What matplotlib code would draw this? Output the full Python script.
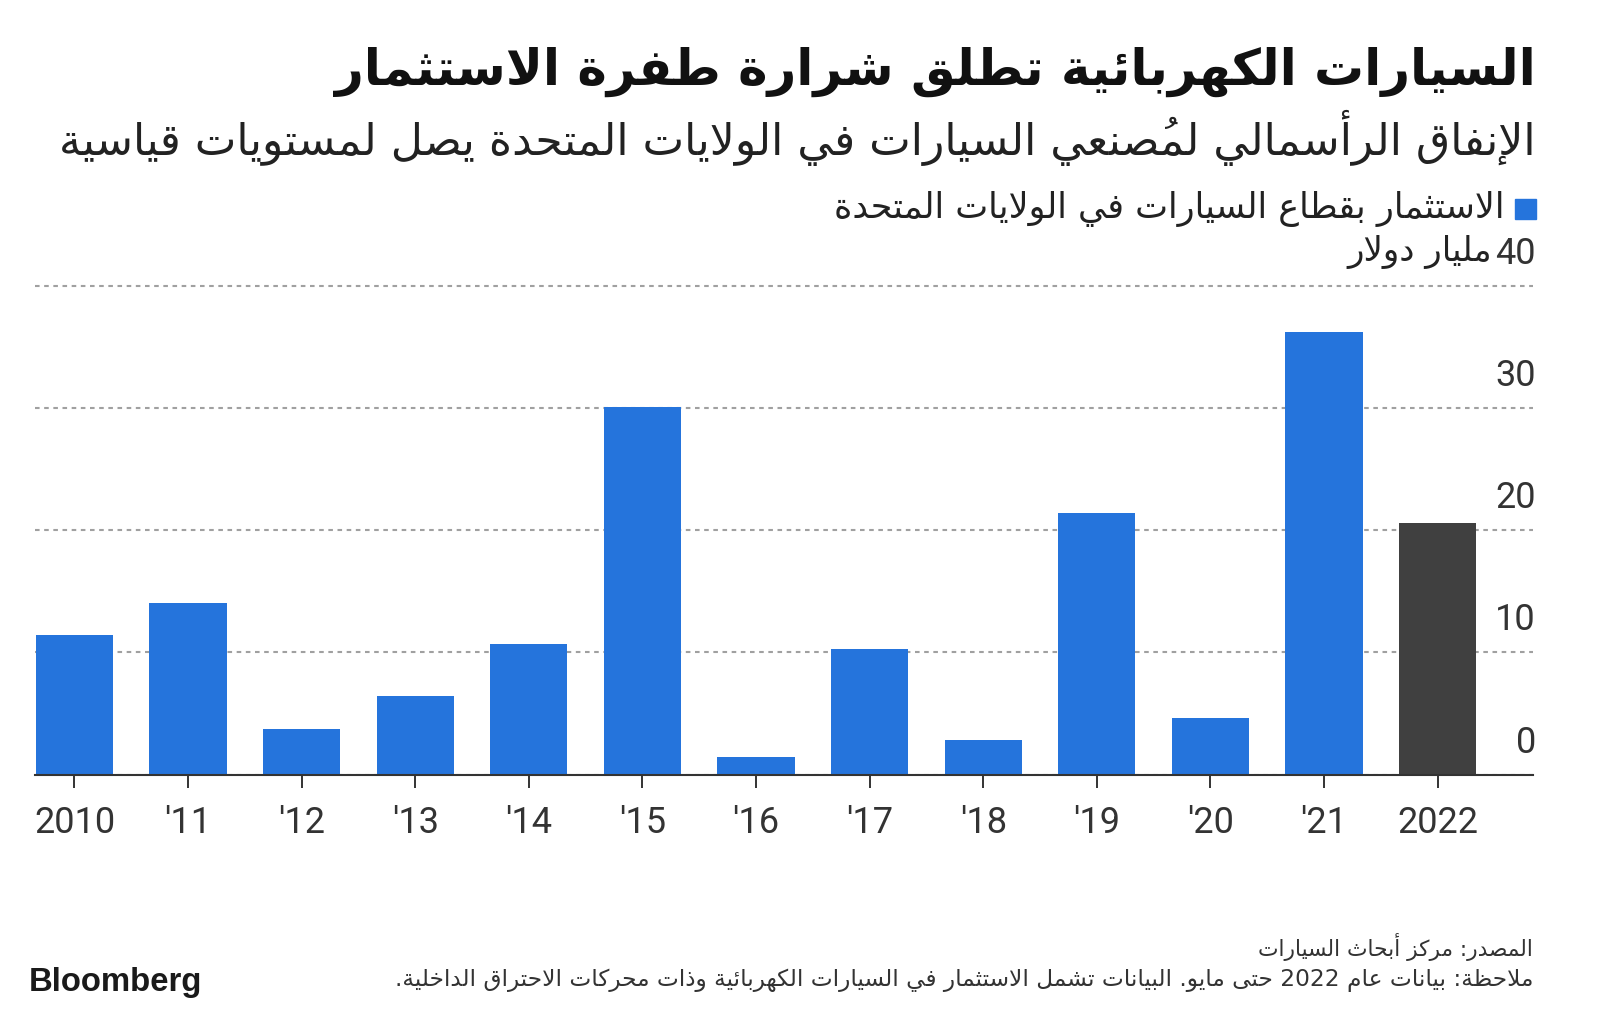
#!/usr/bin/env python3

import matplotlib
matplotlib.use("Agg")
import matplotlib.pyplot as plt
from matplotlib.patches import Rectangle

# Data (billion dollars)
years = ["2010", "'11", "'12", "'13", "'14", "'15", "'16", "'17", "'18", "'19", "'20", "'21", "2022"]
invest = [11.4, 14.0, 3.75, 6.4, 10.7, 30.1, 1.4, 10.25, 2.8, 21.4, 4.6, 36.2, 20.6]
yticks = [0, 10, 20, 30, 40]

title = "السيارات الكهربائية تطلق شرارة طفرة الاستثمار"
subtitle = "الإنفاق الرأسمالي لمُصنعي السيارات في الولايات المتحدة يصل لمستويات قياسية"
legend_txt = "الاستثمار بقطاع السيارات في الولايات المتحدة"
unit_txt = "مليار دولار"
source_txt = "المصدر: مركز أبحاث السيارات"
note_txt = "ملاحظة: بيانات عام 2022 حتى مايو. البيانات تشمل الاستثمار في السيارات الكهربائية وذات محركات الاحتراق الداخلية."

BLUE = "#2574dc"
GREY = "#404040"

# --- minimal Arabic shaping + RTL ordering (matplotlib does not shape) ---
# letter: (isolated, final, initial, medial)
FORMS = {
    "ء": (0xFE80, None, None, None),
    "آ": (0xFE81, 0xFE82, None, None),
    "أ": (0xFE83, 0xFE84, None, None),
    "ؤ": (0xFE85, 0xFE86, None, None),
    "إ": (0xFE87, 0xFE88, None, None),
    "ئ": (0xFE89, 0xFE8A, 0xFE8B, 0xFE8C),
    "ا": (0xFE8D, 0xFE8E, None, None),
    "ب": (0xFE8F, 0xFE90, 0xFE91, 0xFE92),
    "ة": (0xFE93, 0xFE94, None, None),
    "ت": (0xFE95, 0xFE96, 0xFE97, 0xFE98),
    "ث": (0xFE99, 0xFE9A, 0xFE9B, 0xFE9C),
    "ج": (0xFE9D, 0xFE9E, 0xFE9F, 0xFEA0),
    "ح": (0xFEA1, 0xFEA2, 0xFEA3, 0xFEA4),
    "خ": (0xFEA5, 0xFEA6, 0xFEA7, 0xFEA8),
    "د": (0xFEA9, 0xFEAA, None, None),
    "ذ": (0xFEAB, 0xFEAC, None, None),
    "ر": (0xFEAD, 0xFEAE, None, None),
    "ز": (0xFEAF, 0xFEB0, None, None),
    "س": (0xFEB1, 0xFEB2, 0xFEB3, 0xFEB4),
    "ش": (0xFEB5, 0xFEB6, 0xFEB7, 0xFEB8),
    "ص": (0xFEB9, 0xFEBA, 0xFEBB, 0xFEBC),
    "ض": (0xFEBD, 0xFEBE, 0xFEBF, 0xFEC0),
    "ط": (0xFEC1, 0xFEC2, 0xFEC3, 0xFEC4),
    "ظ": (0xFEC5, 0xFEC6, 0xFEC7, 0xFEC8),
    "ع": (0xFEC9, 0xFECA, 0xFECB, 0xFECC),
    "غ": (0xFECD, 0xFECE, 0xFECF, 0xFED0),
    "ف": (0xFED1, 0xFED2, 0xFED3, 0xFED4),
    "ق": (0xFED5, 0xFED6, 0xFED7, 0xFED8),
    "ك": (0xFED9, 0xFEDA, 0xFEDB, 0xFEDC),
    "ل": (0xFEDD, 0xFEDE, 0xFEDF, 0xFEE0),
    "م": (0xFEE1, 0xFEE2, 0xFEE3, 0xFEE4),
    "ن": (0xFEE5, 0xFEE6, 0xFEE7, 0xFEE8),
    "ه": (0xFEE9, 0xFEEA, 0xFEEB, 0xFEEC),
    "و": (0xFEED, 0xFEEE, None, None),
    "ى": (0xFEEF, 0xFEF0, None, None),
    "ي": (0xFEF1, 0xFEF2, 0xFEF3, 0xFEF4),
}
LAM_ALEF = {"آ": (0xFEF5, 0xFEF6), "أ": (0xFEF7, 0xFEF8), "إ": (0xFEF9, 0xFEFA), "ا": (0xFEFB, 0xFEFC)}


def is_mark(c):
    return "\u064B" <= c <= "\u0652"


def shape(text):
    idx = [i for i, c in enumerate(text) if not is_mark(c)]
    out = []
    skip = set()
    for k, i in enumerate(idx):
        if i in skip:
            continue
        c = text[i]
        marks = ""
        j = i + 1
        while j < len(text) and is_mark(text[j]):
            marks += text[j]
            j += 1
        if c not in FORMS:
            out.append(marks + c)
            continue
        prev = text[idx[k - 1]] if k > 0 else ""
        nxt = text[idx[k + 1]] if k + 1 < len(idx) else ""
        join_prev = prev in FORMS and FORMS[prev][2] is not None
        if c == "ل" and nxt in LAM_ALEF:
            out.append(marks + chr(LAM_ALEF[nxt][1 if join_prev else 0]))
            skip.add(idx[k + 1])
            continue
        f = FORMS[c]
        join_next = f[2] is not None and nxt in FORMS and FORMS[nxt][1] is not None
        if join_prev and join_next:
            g = f[3]
        elif join_prev:
            g = f[1]
        elif join_next:
            g = f[2]
        else:
            g = f[0]
        # mark goes before its base in visual (left-to-right) order
        out.append(marks + chr(g))
    return out  # clusters, logical order


def ar(text):
    clusters = shape(text)
    # group digit runs so they keep left-to-right order
    runs, cur = [], []
    for cl in clusters:
        if cl.isdigit() and cur and cur[-1].isdigit():
            cur.append(cl)
        else:
            if cur:
                runs.append(cur)
            cur = [cl]
    if cur:
        runs.append(cur)
    return "".join("".join(run) for run in reversed(runs))


# Font setting
NUM_FONT = ["Roboto", "DejaVu Sans"]
AR_FONT = ["DejaVu Sans"]
plt.rcParams["font.family"] = NUM_FONT

W, H = 1600, 1013
fig = plt.figure(figsize=(W / 100, H / 100), dpi=100)
renderer = fig.canvas.get_renderer()


def fit(t, width_px):
    w = t.get_window_extent(renderer).width
    t.set_fontsize(t.get_fontsize() * width_px / w)


ax = fig.add_axes([34.7 / W, 1 - 774.5 / H, (1533 - 34.7) / W, (774.5 - 282) / H])
x = list(range(len(years)))
colors = [BLUE] * (len(years) - 1) + [GREY]
ax.bar(x, invest, width=0.68, color=colors, zorder=2)
ax.set_xlim(-0.35, 12.84)
ax.set_ylim(0, 40.3)

ax.set_yticks(yticks)
ax.yaxis.grid(True, color="#a0a0a0", linestyle=(0, (2.2, 2.2)), linewidth=1.5, zorder=0)
ax.set_axisbelow(True)
ax.tick_params(axis="y", length=0, labelleft=False)
ax.set_xticks(x, years)
ax.tick_params(axis="x", length=9, width=1.4, color="#333333", pad=13,
               labelsize=26, labelcolor="#333333")
for s in ["top", "left", "right"]:
    ax.spines[s].set_visible(False)
ax.spines["bottom"].set_color("#333333")
ax.spines["bottom"].set_linewidth(1.5)
ax.spines["bottom"].set_zorder(3)

for v in yticks:
    ax.text(1.002, v + 1.8, str(v), transform=ax.get_yaxis_transform(),
            ha="right", va="baseline", fontsize=26, color="#333333")

# Texts
t = fig.text(1536 / W, 1 - 71.5 / H, ar(title), ha="right", va="center",
             family=AR_FONT, fontweight="bold", fontsize=38, color="#111111")
fit(t, 1200)
t = fig.text(1536 / W, 1 - 138 / H, ar(subtitle), ha="right", va="center",
             family=AR_FONT, fontsize=26, color="#222222")
fit(t, 1477)
t = fig.text(1505 / W, 1 - 209 / H, ar(legend_txt), ha="right", va="center",
             family=AR_FONT, fontsize=20, color="#222222")
fit(t, 673)
fig.patches.append(Rectangle((1515 / W, 1 - 219 / H), 21 / W, 20 / H,
                             transform=fig.transFigure, color=BLUE))
t = fig.text(1492 / W, 1 - 252 / H, ar(unit_txt), ha="right", va="center",
             family=AR_FONT, fontsize=20, color="#222222")
fit(t, 145)
t = fig.text(1533 / W, 1 - 947 / H, ar(source_txt), ha="right", va="center",
             family=AR_FONT, fontsize=14, color="#333333")
fit(t, 278)
t = fig.text(1533 / W, 1 - 980 / H, ar(note_txt), ha="right", va="center",
             family=AR_FONT, fontsize=14, color="#333333")
fit(t, 1150)
t = fig.text(29 / W, 1 - 982 / H, "Bloomberg", ha="left", va="center",
             family=["Liberation Sans", "DejaVu Sans"], fontweight="bold",
             fontsize=20, color="#1a1a1a")
fit(t, 173)

fig.savefig("out.png", dpi=100)
plt.close()
